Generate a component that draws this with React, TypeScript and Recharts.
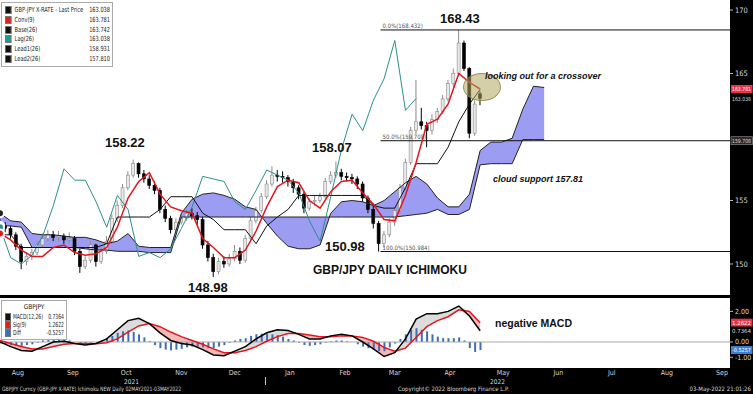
import React from 'react'
import { Area, Bar, ComposedChart, Line, ReferenceLine, XAxis, YAxis } from 'recharts'

// x = calendar days since 1 Aug 2021
const X_DOMAIN: [number, number] = [4, 414.5]
const MAIN_DOMAIN: [number, number] = [147.56, 170.79]
const MACD_DOMAIN: [number, number] = [-1.7, 2.876]

const CANDLE_T = [
  4, 7, 10, 13, 16, 19, 22, 25, 28, 31, 34, 37, 40, 43, 46, 49, 52, 55, 58, 61,
  64, 67, 70, 73, 76, 79, 82, 85, 88, 91, 94, 97, 100, 103, 106, 109, 112, 115, 118, 121,
  124, 127, 130, 133, 136, 139, 142, 145, 148, 151, 154, 157, 160, 163, 166, 169, 172, 175, 178, 181,
  184, 187, 190, 193, 196, 199, 202, 205, 208, 211, 214, 217, 220, 223, 226, 229, 232, 235, 238, 241,
  244, 247, 250, 253, 256, 259, 262, 265, 268, 271, 274,
]
const OPEN = [
  153.3, 153.0, 152.8, 152.3, 151.4, 150.2, 150.6, 150.9, 151.5, 152.0, 152.3, 152.1, 152.2, 151.9, 152.0, 151.0, 149.8, 150.3, 151.5, 150.2,
  151.0, 151.8, 153.6, 154.6, 156.0, 157.0, 157.9, 157.1, 156.7, 156.2, 155.8, 154.3, 153.6, 152.7, 153.3, 153.6, 154.0, 153.8, 153.5, 151.5,
  150.5, 149.4, 150.2, 150.0, 150.4, 151.0, 150.3, 152.0, 153.4, 154.2, 155.3, 156.3, 157.0, 156.9, 156.8, 156.5, 156.0, 155.5, 154.4, 154.9,
  155.0, 155.3, 156.5, 157.0, 157.2, 156.9, 156.8, 156.7, 156.3, 155.2, 154.3, 153.2, 151.6, 152.3, 153.3, 154.2, 156.0, 158.0, 160.5, 161.2,
  160.9, 160.5, 161.4, 162.0, 163.0, 164.2, 165.0, 167.4, 165.4, 160.3, 163.4,
]
const HIGH = [
  153.6, 153.3, 153.0, 152.5, 151.6, 150.9, 151.2, 151.8, 152.4, 152.7, 152.6, 152.6, 152.4, 152.5, 152.2, 151.2, 150.6, 151.8, 151.6, 151.3,
  152.2, 153.9, 155.0, 156.3, 157.3, 158.22, 158.0, 157.4, 157.0, 156.5, 156.0, 154.6, 153.8, 153.6, 153.9, 154.3, 154.4, 154.1, 153.7, 151.8,
  150.8, 150.5, 150.6, 150.8, 151.5, 151.3, 152.3, 153.7, 154.5, 155.6, 156.6, 157.7, 157.4, 157.3, 157.0, 156.7, 156.2, 155.7, 155.2, 155.4,
  155.6, 156.8, 157.3, 158.07, 157.5, 157.2, 157.1, 156.9, 156.5, 155.4, 154.6, 153.4, 152.6, 153.6, 154.5, 156.3, 158.3, 160.8, 164.5, 162.3,
  161.2, 161.8, 162.3, 163.3, 164.5, 165.4, 168.43, 167.6, 165.5, 162.9, 163.6,
]
const LOW = [
  152.8, 152.5, 152.0, 151.1, 149.6, 149.9, 150.3, 150.7, 151.3, 151.8, 151.8, 151.8, 151.6, 151.6, 150.7, 149.3, 149.6, 150.1, 149.8, 150.0,
  150.8, 151.6, 153.3, 154.4, 155.8, 156.8, 156.8, 156.4, 155.9, 155.5, 154.0, 153.3, 152.4, 152.5, 153.1, 153.4, 153.5, 153.1, 151.2, 150.2,
  148.98, 149.2, 149.7, 149.8, 150.2, 150.0, 150.1, 151.8, 153.2, 154.0, 155.1, 156.1, 156.5, 156.4, 156.1, 155.6, 155.1, 154.0, 154.2, 154.6,
  154.8, 155.1, 156.3, 156.8, 156.6, 156.5, 156.3, 155.9, 154.9, 154.0, 152.8, 150.98, 151.3, 152.1, 153.0, 154.0, 155.8, 157.8, 160.2, 160.6,
  159.2, 160.2, 161.1, 161.8, 162.8, 163.9, 164.8, 165.2, 159.9, 160.1, 162.5,
]
const CLOSE = [
  153.0, 152.8, 152.3, 151.4, 150.2, 150.6, 150.9, 151.5, 152.0, 152.3, 152.1, 152.2, 151.9, 152.0, 151.0, 149.8, 150.3, 151.5, 150.2, 151.0,
  151.8, 153.6, 154.6, 156.0, 157.0, 157.9, 157.1, 156.7, 156.2, 155.8, 154.3, 153.6, 152.7, 153.3, 153.6, 154.0, 153.8, 153.5, 151.5, 150.5,
  149.4, 150.2, 150.0, 150.4, 151.0, 150.3, 152.0, 153.4, 154.2, 155.3, 156.3, 157.0, 156.9, 156.8, 156.5, 156.0, 155.5, 154.4, 154.9, 155.0,
  155.3, 156.5, 157.0, 157.2, 156.9, 156.8, 156.7, 156.3, 155.2, 154.3, 153.2, 151.6, 152.3, 153.3, 154.2, 156.0, 158.0, 160.5, 161.2, 160.9,
  160.5, 161.4, 162.0, 163.0, 164.2, 165.0, 167.4, 165.4, 160.3, 162.6, 163.04,
]
const DIFF = [
  -0.1, -0.15, -0.2, -0.25, -0.25, -0.2, -0.15, -0.05, 0.1, 0.2, 0.28, 0.25, 0.2, 0.1, 0.0, -0.1, -0.1, -0.05, 0.0, 0.1,
  0.25, 0.4, 0.6, 0.7, 0.75, 0.65, 0.5, 0.3, 0.05, -0.2, -0.4, -0.5, -0.55, -0.5, -0.45, -0.35, -0.3, -0.3, -0.35, -0.4,
  -0.4, -0.3, -0.2, -0.05, 0.1, 0.2, 0.25, 0.4, 0.5, 0.55, 0.55, 0.5, 0.45, 0.35, 0.2, 0.1, -0.05, -0.2, -0.25, -0.2,
  -0.15, -0.05, 0.05, 0.1, 0.1, 0.05, 0.0, -0.15, -0.3, -0.4, -0.5, -0.6, -0.6, -0.35, -0.1, 0.2, 0.5, 0.8, 0.9, 0.8,
  0.7, 0.5, 0.35, 0.25, 0.25, 0.25, 0.3, 0.1, -0.4, -0.65, -0.53,
]

const LINE_T = [
  4, 10, 16, 22, 28, 34, 40, 46, 52, 58, 64, 70, 76, 82, 88, 94, 100, 106, 112, 118,
  124, 130, 136, 142, 148, 154, 160, 166, 172, 178, 184, 190, 196, 202, 208, 214, 220, 226, 232, 238,
  244, 250, 256, 262, 268, 274,
]
const CONV = [
  152.4, 151.9, 151.1, 150.6, 150.6, 151.3, 151.5, 150.9, 150.7, 150.8, 151.3, 152.9, 155.2, 156.5, 157.2, 155.5, 154.5, 154.2, 154.0, 152.0,
  151.3, 150.5, 150.5, 151.1, 152.6, 154.5, 156.1, 156.6, 156.4, 155.0, 154.4, 155.7, 156.5, 156.6, 155.6, 154.7, 153.5, 153.4, 155.4, 158.0,
  161.0, 161.4, 162.6, 165.0, 164.3, 163.781,
]
const BASE = [
  152.3, 152.3, 151.3, 151.3, 151.3, 151.3, 151.3, 151.3, 151.3, 151.3, 151.6, 153.7, 153.7, 153.7, 153.7, 154.3, 155.3, 155.3, 155.3, 154.0,
  153.5, 152.7, 152.7, 152.7, 151.6, 153.0, 153.7, 154.3, 155.4, 155.4, 155.4, 155.4, 155.4, 155.4, 155.4, 154.6, 154.4, 154.4, 156.0, 157.9,
  157.9, 157.9, 159.2, 161.2, 162.6, 163.742,
]
const LAG = [
  152.9, 150.5, 150.0, 150.7, 152.2, 154.6, 157.5, 156.6, 156.6, 154.9, 152.9, 155.4, 154.3, 150.6, 150.9, 150.5, 151.2, 152.8, 154.5, 156.9,
  156.7, 156.5, 154.9, 154.3, 155.8, 157.4, 157.0, 156.6, 155.6, 153.4, 151.8, 155.3, 159.0, 161.8, 160.5, 162.9, 164.6, 167.6, 162.1, 163.038,
]
const MACD = [
  0.0, -0.3, -0.55, -0.6, -0.3, 0.0, 0.05, -0.1, -0.2, -0.1, 0.2, 0.8, 1.4, 1.55, 1.2, 0.6, 0.1, -0.1, -0.2, -0.5,
  -0.85, -0.9, -0.6, -0.3, 0.2, 0.6, 0.8, 0.75, 0.5, 0.2, 0.2, 0.4, 0.5, 0.4, 0.0, -0.45, -0.95, -0.7, 0.2, 1.5,
  1.85, 1.85, 2.0, 2.35, 1.7, 0.7364,
]
const SIGNAL = [
  0.1, -0.1, -0.3, -0.45, -0.45, -0.3, -0.15, -0.1, -0.1, -0.12, -0.05, 0.2, 0.65, 1.05, 1.2, 1.0, 0.65, 0.35, 0.1, -0.15,
  -0.45, -0.7, -0.7, -0.55, -0.3, 0.05, 0.35, 0.55, 0.55, 0.45, 0.35, 0.35, 0.4, 0.4, 0.3, 0.05, -0.35, -0.6, -0.4, 0.3,
  1.0, 1.4, 1.65, 2.1, 2.0, 1.2622,
]

const CLOUD_T = [
  4, 10, 16, 22, 28, 34, 40, 46, 52, 58, 64, 70, 76, 82, 88, 94, 100, 106, 112, 118,
  124, 130, 136, 142, 148, 154, 160, 166, 172, 178, 184, 190, 196, 202, 208, 214, 220, 226, 232, 238,
  244, 250, 256, 262, 268, 274, 280, 286, 292, 298, 304, 310,
]
const LEAD1 = [
  154.0, 153.4, 153.3, 152.4, 152.3, 152.3, 152.2, 152.1, 152.1, 151.9, 151.6, 151.8, 152.4, 151.4, 151.3, 151.3, 151.3, 154.0, 155.1, 155.5,
  155.6, 155.4, 155.1, 154.5, 154.3, 153.2, 152.2, 151.4, 151.2, 151.2, 151.5, 154.0, 154.9, 155.0, 154.9, 154.6, 155.0, 155.7, 156.4, 156.9,
  156.3, 155.2, 154.5, 154.5, 155.5, 158.931, 159.6, 159.6, 159.9, 162.2, 164.0, 163.9,
]
const LEAD2 = [
  153.0, 153.0, 152.9, 151.3, 151.3, 151.3, 151.3, 151.3, 151.2, 151.1, 151.1, 151.0, 151.0, 151.0, 150.9, 150.9, 150.9, 153.7, 153.7, 153.7,
  153.7, 153.7, 153.7, 153.7, 153.7, 153.7, 153.7, 153.7, 153.7, 153.7, 153.7, 153.7, 153.7, 153.7, 153.7, 153.7, 153.7, 153.7, 153.8, 153.9,
  154.0, 154.3, 153.9, 153.9, 154.3, 157.81, 157.9, 157.9, 157.9, 159.8, 159.8, 159.8,
]

const MONTH_TICKS = [14, 45, 75, 106, 136, 167, 198, 226, 257, 287, 318, 348, 379, 410]
const MONTH_LABELS = ['Aug', 'Sep', 'Oct', 'Nov', 'Dec', 'Jan', 'Feb', 'Mar', 'Apr', 'May', 'Jun', 'Jul', 'Aug', 'Sep']

const FIB_START = 218
const FIB_LEVELS = [168.432, 159.708, 150.984]
const FIB_LABELS = ['0.0%(168.432)', '50.0%(159.708)', '100.0%(150.984)']

const candleRows = CANDLE_T.map((t, i) => ({ t, o: OPEN[i], h: HIGH[i], l: LOW[i], c: CLOSE[i], d: DIFF[i] }))
const convRows = LINE_T.map((t, i) => ({ t, v: CONV[i] }))
const baseRows = LINE_T.map((t, i) => ({ t, v: BASE[i] }))
const lagRows = LINE_T.slice(0, LAG.length).map((t, i) => ({ t, v: LAG[i] }))
const cloudRows = CLOUD_T.map((t, i) => ({ t, a: LEAD1[i], b: LEAD2[i] }))
const macdRows = LINE_T.map((t, i) => ({ t, m: MACD[i], s: SIGNAL[i] }))

const NARROW = "'Liberation Sans Narrow', 'DejaVu Sans Condensed', 'Liberation Sans', sans-serif"
const BOLD = "'Liberation Sans', Arial, sans-serif"

function Candle(props: any) {
  const { x, y, width, height, payload } = props
  if (!payload || x == null) return null
  const { o, h, l, c } = payload
  const top = Math.min(y, y + height)
  const span = Math.abs(height)
  const ppu = span / (h - l || 1)
  const yOf = (v: number) => top + (h - v) * ppu
  const up = c >= o
  const cx = x + width / 2
  const bTop = yOf(Math.max(o, c))
  const bBot = yOf(Math.min(o, c))
  const col = up ? '#8c8c8c' : '#000'
  return (
    <g>
      <line x1={cx} x2={cx} y1={top} y2={top + span} stroke={col} strokeWidth={1} />
      <rect x={x} y={bTop} width={width} height={Math.max(1, bBot - bTop)} fill={up ? '#e8e8e8' : '#000'} stroke={col} strokeWidth={0.6} />
    </g>
  )
}

function priceTag(text: string, bg: string, fg: string, border?: string) {
  return (p: any) => {
    const vb = p.viewBox
    if (!vb) return null
    const x0 = vb.x + vb.width + 1
    return (
      <g>
        <rect x={x0} y={vb.y - 4} width={21.5} height={8} fill={bg} stroke={border ?? 'none'} strokeWidth={0.6} />
        <text x={x0 + 1} y={vb.y + 2.2} fontSize={5.6} fill={fg} fontFamily={NARROW} textLength={19} lengthAdjust="spacingAndGlyphs">
          {text}
        </text>
      </g>
    )
  }
}

function fibLabel(text: string) {
  return (p: any) => {
    const vb = p.viewBox
    if (!vb) return null
    return (
      <text x={vb.x + 2} y={vb.y - 2} fontSize={6} fill="#555" fontFamily={NARROW}>{text}</text>
    )
  }
}

const txt = (left: number, top: number, size: number, extra: React.CSSProperties = {}): React.CSSProperties => ({
  position: 'absolute', left, top, fontSize: size, lineHeight: 1, fontFamily: BOLD, fontWeight: 700, color: '#111', whiteSpace: 'nowrap', ...extra,
})

const squeeze = (width: number, k: number): React.CSSProperties => ({
  position: 'absolute', left: 0, top: 0, width: width / k, transform: `scaleX(${k})`, transformOrigin: 'left top',
})

const LEGEND = [
  { c: '#111', label: 'GBP-JPY X-RATE - Last Price', v: '163.038' },
  { c: '#e02020', label: 'Conv(9)', v: '163.781' },
  { c: '#111', label: 'Base(26)', v: '163.742' },
  { c: '#1f9b96', label: 'Lag(26)', v: '163.038' },
  { c: '#111', label: 'Lead1(26)', v: '158.931' },
  { c: '#111', label: 'Lead2(26)', v: '157.810' },
]
const MACD_LEGEND = [
  { c: '#111', label: 'MACD(12,26)', v: '0.7364' },
  { c: '#e02020', label: 'Sig(9)', v: '1.2622' },
  { c: '#3d6db5', label: 'Diff', v: '-0.5257' },
]

export default function App() {
  return (
    <div style={{ position: 'absolute', left: 0, top: 0, width: 753, height: 394, background: '#000', overflow: 'hidden', fontFamily: NARROW }}>
      <div style={{ position: 'absolute', left: 0, top: 0, width: 730, height: 295, background: '#fff' }} />
      <div style={{ position: 'absolute', left: 0, top: 298, width: 730, height: 70, background: '#fff' }} />

      <div style={{ position: 'absolute', left: 0, top: 0 }}>
        <ComposedChart width={753} height={295} data={candleRows} margin={{ top: 0, right: 0, bottom: 0, left: 0 }}>
          <XAxis type="number" dataKey="t" domain={X_DOMAIN} hide allowDataOverflow />
          <YAxis
            orientation="right"
            width={23}
            domain={MAIN_DOMAIN}
            ticks={[150, 155, 165, 170]}
            allowDataOverflow
            axisLine={false}
            tickSize={3}
            tickLine={{ stroke: '#bbb' }}
            tick={{ fill: '#d8d8d8', fontSize: 7.5, fontFamily: NARROW }}
          />
          <Area data={cloudRows} dataKey={(d: any) => [d.b, d.a]} fill="#9c9cf2" fillOpacity={1} stroke="none" isAnimationActive={false} />
          <Line data={cloudRows} dataKey="a" stroke="#222" strokeWidth={1} dot={false} isAnimationActive={false} />
          <Line data={cloudRows} dataKey="b" stroke="#222" strokeWidth={1} dot={false} isAnimationActive={false} />
          {FIB_LEVELS.map((lv, i) => (
            <ReferenceLine
              key={lv}
              segment={[{ x: FIB_START, y: lv }, { x: X_DOMAIN[1], y: lv }]}
              stroke="#111"
              strokeWidth={1}
              label={fibLabel(FIB_LABELS[i])}
            />
          ))}
          <Line data={lagRows} dataKey="v" stroke="#2a8f8c" strokeWidth={1} dot={false} isAnimationActive={false} />
          <Bar dataKey={(d: any) => [d.l, d.h]} barSize={3} shape={Candle} isAnimationActive={false} />
          <Line data={baseRows} dataKey="v" stroke="#111" strokeWidth={1} dot={false} isAnimationActive={false} />
          <Line data={convRows} dataKey="v" stroke="#e3161f" strokeWidth={1.5} dot={false} isAnimationActive={false} />
          <ReferenceLine y={163.781} stroke="none" label={priceTag('163.781', '#e8334a', '#fff')} />
          <ReferenceLine y={163.038} stroke="none" label={priceTag('163.038', '#000', '#ddd')} />
          <ReferenceLine y={159.708} stroke="none" label={priceTag('159.708', '#2a2a2a', '#ddd', '#999')} />
        </ComposedChart>
      </div>

      <div style={{ position: 'absolute', left: 0, top: 298 }}>
        <ComposedChart width={753} height={96} data={candleRows} margin={{ top: 0, right: 0, bottom: 0, left: 0 }}>
          <XAxis
            type="number"
            dataKey="t"
            domain={X_DOMAIN}
            allowDataOverflow
            ticks={MONTH_TICKS}
            interval={0}
            tickFormatter={(v: number) => MONTH_LABELS[MONTH_TICKS.indexOf(v)] ?? ''}
            height={26}
            axisLine={false}
            tickLine={false}
            tickSize={0}
            tickMargin={2}
            tick={{ fill: '#d8d8d8', fontSize: 7, fontFamily: NARROW }}
          />
          <YAxis
            orientation="right"
            width={23}
            domain={MACD_DOMAIN}
            ticks={[-1, 0, 2]}
            allowDataOverflow
            tickFormatter={(v: number) => v.toFixed(2)}
            axisLine={false}
            tickSize={3}
            tickLine={{ stroke: '#bbb' }}
            tick={{ fill: '#d8d8d8', fontSize: 7, fontFamily: NARROW }}
          />
          <ReferenceLine y={0} stroke="#aaa" strokeWidth={1} />
          <Area data={macdRows} dataKey={(d: any) => [d.s, Math.max(d.m, d.s)]} fill="#dcdcdc" fillOpacity={1} stroke="none" isAnimationActive={false} />
          <Area data={macdRows} dataKey={(d: any) => [Math.min(d.m, d.s), d.s]} fill="#f6b7b7" fillOpacity={1} stroke="none" isAnimationActive={false} />
          <Bar dataKey="d" barSize={2} fill="#3d6db5" isAnimationActive={false} />
          <Line data={macdRows} dataKey="s" stroke="#e3161f" strokeWidth={1.5} dot={false} isAnimationActive={false} />
          <Line data={macdRows} dataKey="m" stroke="#000" strokeWidth={1.5} dot={false} isAnimationActive={false} />
          <ReferenceLine y={1.2622} stroke="none" label={priceTag('1.2622', '#e8334a', '#fff')} />
          <ReferenceLine y={0.7364} stroke="none" label={priceTag('0.7364', '#000', '#ddd')} />
          <ReferenceLine y={-0.5257} stroke="none" label={priceTag('-0.5257', '#3d7fd0', '#fff')} />
        </ComposedChart>
      </div>

      {/* legend */}
      <div style={{ position: 'absolute', left: 1, top: 2, width: 110, height: 63, background: '#fff', border: '1px solid #aaa', overflow: 'hidden' }}>
        {LEGEND.map((r, i) => (
          <div key={i} style={{ position: 'absolute', left: 3, top: 3 + i * 9.8, width: 105, height: 9 }}>
            <div style={{ ...squeeze(105, 0.8), fontSize: 7, lineHeight: '9px', color: '#222', whiteSpace: 'nowrap' }}>
              <span style={{ display: 'inline-block', width: 6, height: 6, background: r.c, marginRight: 4, verticalAlign: 'middle', border: '1px solid #777' }} />
              {r.label}
              <span style={{ position: 'absolute', right: 0 }}>{r.v}</span>
            </div>
          </div>
        ))}
      </div>
      <div style={{ position: 'absolute', left: 1, top: 300, width: 64, height: 38, background: '#fff', border: '1px solid #aaa', overflow: 'hidden' }}>
        <div style={{ position: 'absolute', left: 0, top: 2, width: 64, textAlign: 'center', fontSize: 6.5, color: '#222' }}>GBPJPY</div>
        {MACD_LEGEND.map((r, i) => (
          <div key={i} style={{ position: 'absolute', left: 3, top: 12 + i * 8, width: 59, height: 8 }}>
            <div style={{ ...squeeze(59, 0.72), fontSize: 7, lineHeight: '8px', color: '#222', whiteSpace: 'nowrap' }}>
              <span style={{ display: 'inline-block', width: 6, height: 6, background: r.c, marginRight: 3, verticalAlign: 'middle', border: '1px solid #777' }} />
              {r.label}
              <span style={{ position: 'absolute', right: 0 }}>{r.v}</span>
            </div>
          </div>
        ))}
      </div>

      {/* annotations */}
      <div style={{ position: 'absolute', left: 463, top: 73, width: 36, height: 26, borderRadius: '50%', background: 'rgba(178,168,96,0.55)', border: '1px solid rgba(130,120,60,0.7)' }} />
      <div style={txt(440, 12, 13)}>168.43</div>
      <div style={txt(105, 136, 13)}>158.22</div>
      <div style={txt(312, 141, 13)}>158.07</div>
      <div style={txt(325, 240, 13)}>150.98</div>
      <div style={txt(188, 281, 13)}>148.98</div>
      <div style={txt(313, 264, 12)}>GBP/JPY DAILY ICHIMOKU</div>
      <div style={txt(485, 72, 9, { fontStyle: 'italic' })}>looking out for a crossover</div>
      <div style={txt(493, 175, 9, { fontStyle: 'italic' })}>cloud support 157.81</div>
      <div style={txt(495, 318, 10.5)}>negative MACD</div>

      {/* bottom strip */}
      <div style={{ position: 'absolute', left: 124, top: 378, fontSize: 6.5, color: '#d8d8d8' }}>2021</div>
      <div style={{ position: 'absolute', left: 490, top: 378, fontSize: 6.5, color: '#d8d8d8' }}>2022</div>
      <div style={{ position: 'absolute', left: 265, top: 377, width: 1, height: 8, background: '#bbb' }} />
      <div style={{ position: 'absolute', left: 2, top: 385, width: 190, height: 8 }}>
        <div style={{ ...squeeze(190, 0.85), fontSize: 6, color: '#d8d8d8', whiteSpace: 'nowrap' }}>
          GBPJPY Curncy (GBP-JPY X-RATE) Ichimoku NEW  Daily 02MAY2021-03MAY2022
        </div>
      </div>
      <div style={{ position: 'absolute', left: 398, top: 385, fontSize: 6, color: '#d8d8d8', whiteSpace: 'nowrap' }}>
        Copyright© 2022 Bloomberg Finance L.P.
      </div>
      <div style={{ position: 'absolute', right: 2, top: 385, fontSize: 6, color: '#d8d8d8', whiteSpace: 'nowrap' }}>
        03-May-2022 21:01:26
      </div>
    </div>
  )
}
